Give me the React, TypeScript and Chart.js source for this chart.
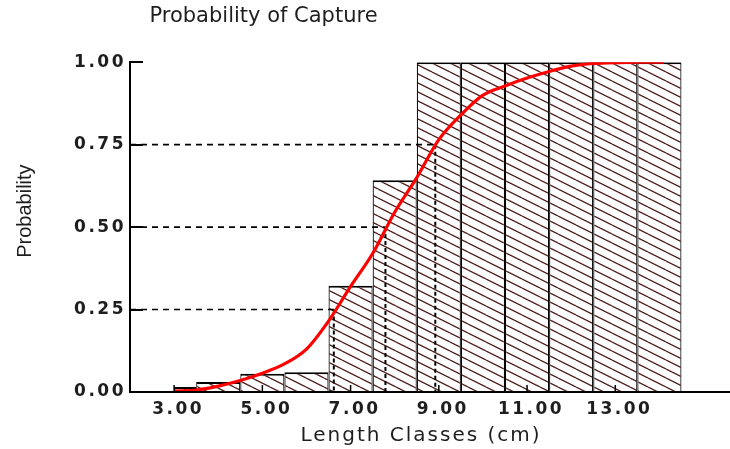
import React, { useEffect, useRef } from "react";
import { Chart, registerables } from "chart.js";

Chart.register(...registerables);

// ---- Data ----
const classMidpoints = [4, 5, 6, 7, 8, 9, 10, 11, 12, 13, 14];
const classProportions = [0.03, 0.055, 0.06, 0.322, 0.642, 1, 1, 1, 1, 1, 1];
const partialClassMid = [3.25];
const partialClassProp = [0.015];

const curveLengths = [3.0, 3.5, 4.0, 4.5, 5.0, 5.5, 6.0, 6.5, 7.0, 7.5, 8.0, 8.5, 9.0, 9.5, 10.0, 10.5, 11.0, 11.5, 12.0, 12.5, 13.0, 13.5, 14.1];
const curveProbs = [0.003, 0.006, 0.018, 0.035, 0.057, 0.085, 0.13, 0.215, 0.32, 0.42, 0.545, 0.65, 0.765, 0.84, 0.9, 0.928, 0.952, 0.972, 0.988, 0.996, 0.999, 1.0, 1.0];

const quartileProbs = [0.25, 0.5, 0.75];
const quartileLengths = [6.62, 7.79, 8.92];

const xTickValues = [3, 5, 7, 9, 11, 13];
const yTickValues = [0, 0.25, 0.5, 0.75, 1];
const xMin = 2;
const xMax = 15.6;

const TITLE = "Probability of Capture";
const X_TITLE = "Length Classes (cm)";
const Y_TITLE = "Probability";

function makeHatch(): CanvasPattern | string {
  const c = document.createElement("canvas");
  c.width = 18;
  c.height = 9;
  const g = c.getContext("2d");
  if (!g) return "#fff";
  g.fillStyle = "#ffffff";
  g.fillRect(0, 0, 18, 9);
  g.strokeStyle = "#4e1f1f";
  g.lineWidth = 1.3;
  for (const dy of [-9, 0, 9]) {
    g.beginPath();
    g.moveTo(0, dy);
    g.lineTo(18, dy + 9);
    g.stroke();
  }
  return g.createPattern(c, "repeat") || "#fff";
}

function patchOnce(obj: any, key: string, wrap: (orig: any, args: any[]) => any) {
  if (!obj || !obj[key] || obj[key].__patched) return;
  const orig = obj[key].bind(obj);
  const f: any = (...args: any[]) => wrap(orig, args);
  f.__patched = true;
  obj[key] = f;
}

const stylePlugin = {
  id: "stylePlugin",
  afterLayout(chart: any) {
    const ctx = chart.ctx;
    const tb = chart.titleBlock;
    if (tb) {
      tb.left = 0;
      tb.right = 527;
    }
    const x = chart.scales.x;
    const y = chart.scales.y;
    patchOnce(x, "drawLabels", (orig, args) => {
      ctx.save();
      ctx.letterSpacing = "2.5px";
      orig(...args);
      ctx.restore();
    });
    patchOnce(y, "drawLabels", (orig, args) => {
      ctx.save();
      ctx.letterSpacing = "2.5px";
      orig(...args);
      ctx.restore();
    });
    patchOnce(x, "drawTitle", (orig, args) => {
      ctx.save();
      ctx.letterSpacing = "2px";
      ctx.translate(-9, 0);
      orig(...args);
      ctx.restore();
    });
    patchOnce(y, "drawTitle", (orig, args) => {
      ctx.save();
      ctx.translate(0, -16);
      orig(...args);
      ctx.restore();
    });
  },
  afterDraw(chart: any) {
    const ctx = chart.ctx;
    const x = chart.scales.x;
    const y = chart.scales.y;
    const area = chart.chartArea;
    ctx.save();
    ctx.strokeStyle = "#000";
    ctx.lineWidth = 2;
    for (const v of yTickValues) {
      const py = Math.round(y.getPixelForValue(v));
      ctx.beginPath();
      ctx.moveTo(area.left, py);
      ctx.lineTo(area.left + 13, py);
      ctx.stroke();
    }
    ctx.lineWidth = 1.5;
    for (const v of xTickValues) {
      const px = x.getPixelForValue(v);
      ctx.beginPath();
      ctx.moveTo(px, area.bottom);
      ctx.lineTo(px, area.bottom - 7);
      ctx.stroke();
    }
    ctx.restore();
  },
};

export default function App() {
  const ref = useRef<HTMLCanvasElement | null>(null);

  useEffect(() => {
    if (!ref.current) return;
    const hatch = makeHatch();

    const hLines: any[] = [];
    const vLines: any[] = [];
    quartileProbs.forEach((p, i) => {
      const L = quartileLengths[i];
      hLines.push({ x: xMin, y: p }, { x: L, y: p }, { x: L, y: null });
      vLines.push({ x: L, y: p }, { x: L, y: 0 }, { x: L + 0.001, y: null });
    });

    const tickFont = { family: "'DejaVu Sans', sans-serif", size: 17, weight: "bold" };
    const barBorder = { left: 1.2, right: 1.2, top: 2, bottom: 0 };

    const chart = new Chart(ref.current, {
      type: "bar",
      data: {
        datasets: [
          {
            type: "line",
            label: "curve",
            data: curveLengths.map((x, i) => ({ x, y: curveProbs[i] })),
            borderColor: "#ff0000",
            borderWidth: 3.2,
            pointRadius: 0,
            cubicInterpolationMode: "monotone",
            fill: false,
            order: 0,
          } as any,
          {
            type: "line",
            label: "hq",
            data: hLines,
            borderColor: "#000",
            borderWidth: 1.6,
            borderDash: [6, 5],
            pointRadius: 0,
            spanGaps: false,
            fill: false,
            order: 1,
          } as any,
          {
            type: "line",
            label: "vq",
            data: vLines,
            borderColor: "#000",
            borderWidth: 2,
            borderDash: [4, 3],
            pointRadius: 0,
            spanGaps: false,
            fill: false,
            order: 1,
          } as any,
          {
            type: "bar",
            label: "classes",
            data: classMidpoints.map((x, i) => ({ x, y: classProportions[i] })),
            backgroundColor: hatch as any,
            borderColor: "#000",
            borderWidth: barBorder,
            borderSkipped: false,
            grouped: false,
            categoryPercentage: 1,
            barPercentage: 4 / 3,
            order: 2,
          } as any,
          {
            type: "bar",
            label: "partial",
            data: partialClassMid.map((x, i) => ({ x, y: partialClassProp[i] })),
            backgroundColor: hatch as any,
            borderColor: "#000",
            borderWidth: barBorder,
            borderSkipped: false,
            grouped: false,
            categoryPercentage: 1,
            barPercentage: 2 / 3,
            order: 2,
          } as any,
        ],
      },
      options: {
        responsive: false,
        animation: false,
        devicePixelRatio: 1,
        layout: { padding: 0 },
        plugins: {
          legend: { display: false },
          tooltip: { enabled: false },
          title: {
            display: true,
            text: TITLE,
            color: "#1e1e1e",
            font: { family: "'DejaVu Sans', sans-serif", size: 21, weight: "normal" },
            padding: { top: 4, bottom: 33 },
          },
        },
        scales: {
          x: {
            type: "linear",
            offset: false,
            min: xMin,
            max: xMax,
            afterBuildTicks: (s: any) => {
              s.ticks = xTickValues.map((v) => ({ value: v }));
            },
            afterFit: (s: any) => {
              s.height = 57;
            },
            grid: { display: false, drawTicks: false, offset: false },
            border: { display: true, color: "#000", width: 2, z: 1 },
            ticks: {
              color: "#1e1e1e",
              font: tickFont,
              padding: 7,
              labelOffset: 4,
              maxRotation: 0,
              autoSkip: false,
              callback: (v: any) => Number(v).toFixed(2),
            },
            title: {
              display: true,
              text: X_TITLE,
              color: "#1e1e1e",
              font: { family: "'DejaVu Sans', sans-serif", size: 20 },
              padding: { top: 0, bottom: 1 },
            },
          },
          y: {
            type: "linear",
            min: 0,
            max: 1,
            afterBuildTicks: (s: any) => {
              s.ticks = yTickValues.map((v) => ({ value: v }));
            },
            afterFit: (s: any) => {
              s.width = 130;
            },
            grid: { display: false, drawTicks: false },
            border: { display: true, color: "#000", width: 2, z: 1 },
            ticks: {
              color: "#1e1e1e",
              font: tickFont,
              padding: 4,
              callback: (v: any) => Number(v).toFixed(2),
            },
            title: {
              display: true,
              text: Y_TITLE,
              color: "#1e1e1e",
              font: { family: "'Liberation Sans Narrow', 'Arial Narrow', 'Liberation Sans', sans-serif", size: 20 },
              padding: { top: 13, bottom: 0 },
            },
          },
        },
      },
      plugins: [stylePlugin],
    } as any);

    return () => chart.destroy();
  }, []);

  return (
    <div style={{ position: "absolute", left: 0, top: 0, width: 730, height: 449, background: "#fff" }}>
      <canvas ref={ref} width={730} height={449} style={{ display: "block", width: 730, height: 449 }} />
    </div>
  );
}
